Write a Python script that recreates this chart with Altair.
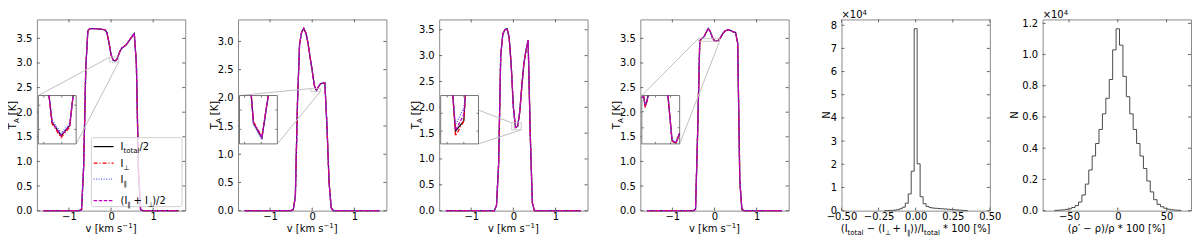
import altair as alt
import pandas as pd

FONT = "DejaVu Sans"
W, H = 149, 192
FRAME = "#8a8a8a"
XDOM = [-1.76, 1.76]

# ---------------- line-profile panels (v in km/s, T_A in K) ----------------
v_p1 = [-1.60, -0.75, -0.70, -0.65, -0.60, -0.55, -0.50, -0.45, -0.40, -0.35, -0.30,
        -0.25, -0.20, -0.15, -0.10, -0.05, 0.00, 0.05, 0.10, 0.15, 0.20, 0.25, 0.30,
        0.35, 0.40, 0.45, 0.50, 0.55, 0.60, 0.65, 0.70, 0.75, 1.60]
T_p1 = [0.00, 0.00, 0.02, 0.90, 2.90, 3.66, 3.70, 3.70, 3.70, 3.70, 3.69,
        3.69, 3.68, 3.68, 3.62, 3.42, 3.17, 3.06, 3.04, 3.09, 3.22, 3.30, 3.33,
        3.36, 3.42, 3.48, 3.54, 3.60, 3.00, 0.80, 0.02, 0.00, 0.00]

v_p2 = [-1.60, -0.50, -0.45, -0.40, -0.35, -0.30, -0.25, -0.20, -0.15, -0.10, -0.05,
        0.00, 0.05, 0.10, 0.15, 0.20, 0.25, 0.30, 0.35, 0.40, 0.45, 0.50, 1.60]
T_p2 = [0.00, 0.00, 0.02, 0.25, 1.90, 2.95, 3.17, 3.23, 3.15, 2.97, 2.72,
        2.48, 2.22, 2.13, 2.20, 2.25, 2.26, 2.26, 1.50, 0.50, 0.05, 0.00, 0.00]

v_p3 = [-1.60, -0.50, -0.45, -0.40, -0.35, -0.30, -0.25, -0.20, -0.15, -0.10, -0.05,
        0.00, 0.05, 0.10, 0.15, 0.20, 0.25, 0.30, 0.35, 0.40, 0.45, 0.50, 1.60]
T_p3 = [0.00, 0.00, 0.00, 0.10, 0.90, 3.00, 3.42, 3.50, 3.52, 3.35, 2.80,
        2.00, 1.61, 1.63, 1.90, 2.40, 2.85, 3.10, 3.30, 1.50, 0.15, 0.00, 0.00]

v_p4 = [-1.60, -0.50, -0.45, -0.40, -0.35, -0.30, -0.25, -0.20, -0.15, -0.10, -0.05,
        0.00, 0.05, 0.10, 0.15, 0.20, 0.25, 0.30, 0.35, 0.40, 0.45, 0.50, 0.55,
        0.60, 0.65, 0.70, 1.60]
T_p4 = [0.00, 0.00, 0.03, 1.60, 3.45, 3.50, 3.53, 3.62, 3.70, 3.64, 3.52,
        3.45, 3.445, 3.46, 3.53, 3.60, 3.65, 3.67, 3.67, 3.65, 3.63, 3.62, 3.40,
        0.60, 0.02, 0.00, 0.00]

PROFILES = [(v_p1, T_p1), (v_p2, T_p2), (v_p3, T_p3), (v_p4, T_p4)]
YMAX = [3.885, 3.39, 3.70, 3.885]
XTICKS = [-1, 0, 1]
YTICKS = [[0.0, 0.5, 1.0, 1.5, 2.0, 2.5, 3.0, 3.5],
          [0.0, 0.5, 1.0, 1.5, 2.0, 2.5, 3.0],
          [0.0, 0.5, 1.0, 1.5, 2.0, 2.5, 3.0, 3.5],
          [0.0, 0.5, 1.0, 1.5, 2.0, 2.5, 3.0, 3.5]]

# zoomed regions shown in the insets: [v0, v1, T0, T1]
REGIONS = [[-0.03, 0.18, 3.02, 3.12],
           [-0.03, 0.195, 2.115, 2.165],
           [-0.039, 0.188, 1.564, 1.70],
           [-0.38, 0.12, 3.44, 3.50]]

# inset curves: (segment, v, black, red, blue, magenta)
INSET_1 = [(0, [0.029, 0.046, 0.096, 0.144, 0.163],
            [3.12, 3.065, 3.037, 3.058, 3.12],
            [3.12, 3.062, 3.033, 3.055, 3.12],
            [3.12, 3.069, 3.042, 3.062, 3.12],
            [3.12, 3.065, 3.037, 3.058, 3.12])]
INSET_2 = [(0, [0.040, 0.053, 0.103, 0.141],
            [2.165, 2.1365, 2.121, 2.165],
            [2.165, 2.138, 2.1225, 2.165],
            [2.165, 2.135, 2.1195, 2.165],
            [2.165, 2.1372, 2.1218, 2.165])]
INSET_3 = [(0, [0.034, 0.05, 0.10, 0.109],
            [1.70, 1.600, 1.629, 1.70],
            [1.70, 1.586, 1.628, 1.70],
            [1.70, 1.618, 1.665, 1.70],
            [1.70, 1.602, 1.646, 1.70])]
INSET_4 = [(0, [-0.38, -0.355, -0.335, -0.31, -0.295],
            [3.4976, 3.4982, 3.4868, 3.494, 3.50],
            [3.4976, 3.4982, 3.4850, 3.493, 3.50],
            [3.4976, 3.4982, 3.4890, 3.495, 3.50],
            [3.4976, 3.4982, 3.4870, 3.494, 3.50]),
           (1, [-0.035, 0.02, 0.07, 0.12],
            [3.50, 3.4442, 3.4412, 3.4532],
            [3.50, 3.4435, 3.4405, 3.4525],
            [3.50, 3.4450, 3.4420, 3.4540],
            [3.50, 3.4442, 3.4412, 3.4532])]
INSETS = [INSET_1, INSET_2, INSET_3, INSET_4]
INSET_XT = [[0.0, 0.1], [0.0, 0.1], [0.0, 0.1], [-0.2, 0.0]]
INSET_YT = [[3.05, 3.10], [2.13, 2.15], [1.60, 1.65], [3.46, 3.48]]

# inset box in axes fractions (x0, x1, y0 from bottom, y1)
BOX = (0.010, 0.265, 0.349, 0.602)

# ---------------- histograms ----------------
h1_edges = [-0.21, -0.19, -0.17, -0.15, -0.13, -0.11, -0.09, -0.07, -0.05, -0.03,
            -0.01, 0.01, 0.03, 0.05, 0.07, 0.09, 0.11, 0.13, 0.15, 0.17, 0.19,
            0.21, 0.23, 0.25, 0.27, 0.29, 0.31, 0.33, 0.35]
h1_counts = [0.003, 0.005, 0.01, 0.02, 0.04, 0.08, 0.15, 0.32, 0.72, 1.70,
             7.85, 2.02, 0.60, 0.30, 0.18, 0.13, 0.11, 0.10, 0.09, 0.08,
             0.07, 0.06, 0.05, 0.04, 0.03, 0.02, 0.01, 0.005]
h2_edges = [-64.75, -61.25, -57.75, -54.25, -50.75, -47.25, -43.75, -40.25, -36.75,
            -33.25, -29.75, -26.25, -22.75, -19.25, -15.75, -12.25, -8.75, -5.25,
            -1.75, 1.75, 5.25, 8.75, 12.25, 15.75, 19.25, 22.75, 26.25, 29.75,
            33.25, 36.75, 40.25, 43.75, 47.25, 50.75, 54.25, 57.75, 61.25, 64.75]
h2_counts = [0.002, 0.003, 0.005, 0.008, 0.012, 0.02, 0.032, 0.055, 0.10, 0.17,
             0.26, 0.35, 0.43, 0.52, 0.62, 0.72, 0.84, 1.03, 1.165, 1.06, 0.86,
             0.73, 0.62, 0.52, 0.43, 0.35, 0.27, 0.19, 0.12, 0.07, 0.04, 0.025,
             0.015, 0.009, 0.005, 0.003, 0.002]
H1_XDOM, H1_YDOM = [-0.5, 0.5], [0, 8.25]
H2_XDOM, H2_YDOM = [-77, 75], [0, 1.225]
H1_XT = [-0.5, -0.25, 0.0, 0.25, 0.5]
H1_YT = [0, 1, 2, 3, 4, 5, 6, 7, 8]
H2_XT = [-50, 0, 50]
H2_YT = [0.0, 0.2, 0.4, 0.6, 0.8, 1.0, 1.2]

for a, b in PROFILES:
    assert len(a) == len(b)
assert len(h1_edges) == len(h1_counts) + 1
assert len(h2_edges) == len(h2_counts) + 1

STYLES = [("black", None, 1.2), ("#ff0000", [4, 2, 1, 2], 1.3),
          ("#5a5aff", [1, 1.5], 1.3), ("#bf00bf", [3.5, 1.6], 1.3)]

ONE = pd.DataFrame({"k": [0]})

CW = {" ": 318, "(": 390, ")": 390, "*": 500, "+": 838, "/": 337, ".": 318,
      "0": 636, "1": 636, "2": 636, "4": 636, "I": 295, "K": 656, "T": 611,
      "A": 684, "[": 390, "]": 390, "%": 950, "a": 613, "l": 278, "o": 612,
      "t": 392, "k": 579, "m": 974, "s": 521, "v": 592, "ρ": 635, "′": 275,
      "−": 838, "⊥": 620, "∥": 420, "×": 838, "N": 748}
SZ = {"n": 10, "b": 7, "p": 7}
DY = {"n": 0, "b": 3, "p": -3.5}


def tw(s, size):
    return sum(CW.get(c, 600) for c in s) * size / 1000.0


def vtext(t, x, y, size=10, align="left", angle=0, baseline="alphabetic"):
    kw = dict(text=t, align=align, baseline=baseline, fontSize=size, font=FONT, color="black")
    if angle:
        kw["angle"] = angle
    return alt.Chart(ONE).mark_text(**kw).encode(x=alt.value(x), y=alt.value(y))


def comp_h(segs, x, y, anchor="center"):
    total = sum(tw(t, SZ[k]) for t, k in segs)
    cx = x - total / 2 if anchor == "center" else x
    out = []
    for t, k in segs:
        fs = SZ[k]
        lead = len(t) - len(t.lstrip(" "))
        s = t.strip(" ")
        if s:
            out.append(vtext(s, cx + tw(" " * lead, fs), y + DY[k], size=fs))
        cx += tw(t, fs)
    return out


def comp_v(segs, x, yc):
    total = sum(tw(t, SZ[k]) for t, k in segs)
    cy = yc + total / 2
    out = []
    for t, k in segs:
        fs = SZ[k]
        lead = len(t) - len(t.lstrip(" "))
        s = t.strip(" ")
        if s:
            out.append(vtext(s, x + DY[k], cy - tw(" " * lead, fs), size=fs, angle=270))
        cy -= tw(t, fs)
    return out


def scl(dom, rng=None):
    if rng is None:
        return alt.Scale(domain=dom, nice=False, zero=False)
    return alt.Scale(domain=dom, range=rng, nice=False, zero=False)


def inward_ticks(X, Y, xt, yt, L=3):
    dx = pd.DataFrame({"x": xt})
    dy = pd.DataFrame({"y": yt})
    c = "#666666"
    return [
        alt.Chart(dx).mark_rule(color=c, strokeWidth=1).encode(
            x=X, y=alt.value(H), y2=alt.value(H - L)),
        alt.Chart(dx).mark_rule(color=c, strokeWidth=1).encode(
            x=X, y=alt.value(0), y2=alt.value(L)),
        alt.Chart(dy).mark_rule(color=c, strokeWidth=1).encode(
            y=Y, x=alt.value(0), x2=alt.value(L)),
        alt.Chart(dy).mark_rule(color=c, strokeWidth=1).encode(
            y=Y, x=alt.value(W), x2=alt.value(W - L)),
    ]


def profile_panel(i):
    v, T = PROFILES[i]
    df = pd.DataFrame({"x": v, "y": T})
    ydom = [0, YMAX[i]]
    AX = alt.Axis(values=XTICKS, format="d", title=None)
    AY = alt.Axis(values=YTICKS[i], format=".1f", title=None)
    X = alt.X("x:Q", scale=scl(XDOM), axis=AX)
    Y = alt.Y("y:Q", scale=scl(ydom), axis=AY)
    main = []
    for j, (col, dash, sw) in enumerate(STYLES):
        kw = dict(color=col, strokeWidth=sw)
        if dash:
            kw["strokeDash"] = dash
        main.append(alt.Chart(df).mark_line(**kw).encode(x=X, y=Y))
    main += inward_ticks(X, Y, XTICKS, YTICKS[i])

    # zoom region + connectors (inset corners from axes fractions)
    rv0, rv1, rT0, rT1 = REGIONS[i]
    bx0, bx1, by0, by1 = BOX
    fx = lambda f: XDOM[0] + f * (XDOM[1] - XDOM[0])
    fy = lambda f: ydom[0] + f * (ydom[1] - ydom[0])
    con = pd.DataFrame({"x": [fx(bx0), fx(bx1)], "y": [fy(by1), fy(by0)],
                        "x2": [rv0, rv1], "y2": [rT1, rT0]})
    main.append(alt.Chart(con).mark_rule(color="#c0c0c0", strokeWidth=1).encode(
        x=X, y=Y, x2="x2:Q", y2="y2:Q"))
    reg = pd.DataFrame({"x": [rv0], "x2": [rv1], "y": [rT0], "y2": [rT1]})
    main.append(alt.Chart(reg).mark_rect(fillOpacity=0, stroke="#c0c0c0", strokeWidth=0.8).encode(
        x=X, y=Y, x2="x2:Q", y2="y2:Q"))

    # axis titles
    main += comp_v([("T", "n"), ("A", "b"), (" [K]", "n")], -20.5, H / 2)
    main += comp_h([("v [km s", "n"), ("−1", "p"), ("]", "n")], W / 2, H + 21)

    if i == 0:
        lx0, lx1, ly0, ly1 = 54.7, 145.7, H - 73.3, H - 4.0
        main.append(alt.Chart(ONE).mark_rect(fill="white", fillOpacity=0.8, stroke="#d0d0d0",
                                             strokeWidth=1, cornerRadius=2).encode(
            x=alt.value(lx0), x2=alt.value(lx1), y=alt.value(ly0), y2=alt.value(ly1)))
        labels = [[("I", "n"), ("total", "b"), ("/2", "n")],
                  [("I", "n"), ("⊥", "b")],
                  [("I", "n"), ("∥", "b")],
                  [("(I", "n"), ("∥", "b"), (" + I", "n"), ("⊥", "b"), (")/2", "n")]]
        rows = [H - 64.3, H - 47.7, H - 31.7, H - 10.0]
        for (col, dash, sw), lab, yy in zip(STYLES, labels, rows):
            kw = dict(color=col, strokeWidth=sw)
            if dash:
                kw["strokeDash"] = dash
            main.append(alt.Chart(ONE).mark_rule(**kw).encode(
                x=alt.value(57), x2=alt.value(77), y=alt.value(yy)))
            main += comp_h(lab, 84, yy + 3.5, anchor="left")

    main_layer = alt.layer(*main)

    # inset with its own scales mapped into the inset box
    IX = alt.X("x:Q", scale=scl([rv0, rv1], [bx0 * W, bx1 * W]), axis=None)
    IY = alt.Y("y:Q", scale=scl([rT0, rT1], [H * (1 - by0), H * (1 - by1)]), axis=None)
    inset = [alt.Chart(reg).mark_rect(fill="white", stroke="#777777", strokeWidth=1).encode(
        x=IX, y=IY, x2="x2:Q", y2="y2:Q")]
    for j, (col, dash, sw) in enumerate(STYLES):
        recs = []
        for seg in INSETS[i]:
            sid, vv = seg[0], seg[1]
            for a, b in zip(vv, seg[2 + j]):
                recs.append({"x": a, "y": b, "s": sid})
        kw = dict(color=col, strokeWidth=sw)
        if dash:
            kw["strokeDash"] = dash
        inset.append(alt.Chart(pd.DataFrame(recs)).mark_line(**kw).encode(
            x=IX, y=IY, detail="s:N"))
    top, bot = H * (1 - by1), H * (1 - by0)
    lft, rgt = bx0 * W, bx1 * W
    dxt = pd.DataFrame({"x": INSET_XT[i]})
    dyt = pd.DataFrame({"y": INSET_YT[i]})
    c = "#777777"
    inset += [
        alt.Chart(dxt).mark_rule(color=c).encode(x=IX, y=alt.value(bot), y2=alt.value(bot - 2)),
        alt.Chart(dxt).mark_rule(color=c).encode(x=IX, y=alt.value(top), y2=alt.value(top + 2)),
        alt.Chart(dyt).mark_rule(color=c).encode(y=IY, x=alt.value(lft), x2=alt.value(lft + 2)),
        alt.Chart(dyt).mark_rule(color=c).encode(y=IY, x=alt.value(rgt), x2=alt.value(rgt - 2)),
    ]
    inset_layer = alt.layer(*inset)
    return alt.layer(main_layer, inset_layer).resolve_scale(
        x="independent", y="independent").properties(width=W, height=H)


def hist_panel(edges, counts, xdom, ydom, xt, yt, yfmt, xfmt, xtitle, ntitle_x):
    xs_ = [edges[0]] + edges[:-1] + [edges[-1], edges[-1]]
    ys_ = [0] + counts + [counts[-1], 0]
    df = pd.DataFrame({"x": xs_, "y": ys_, "i": list(range(len(xs_)))})
    X = alt.X("x:Q", scale=scl(xdom), axis=alt.Axis(values=xt, format=xfmt, title=None))
    Y = alt.Y("y:Q", scale=scl(ydom), axis=alt.Axis(values=yt, format=yfmt, title=None))
    layers = [alt.Chart(df).mark_line(color="#4a4a4a", strokeWidth=1, interpolate="step-after").encode(
        x=X, y=Y, order="i:Q")]
    layers += inward_ticks(X, Y, xt, yt)
    layers.append(vtext("N", ntitle_x, H / 2, align="center", angle=270))
    layers += comp_h([("×10", "n"), ("4", "p")], 0, -1.0, anchor="left")
    layers += xtitle
    return alt.layer(*layers).properties(width=W, height=H)


panels = [profile_panel(i) for i in range(4)]
t5 = comp_h([("(I", "n"), ("total", "b"), (" − (I", "n"), ("⊥", "b"), (" + I", "n"),
             ("∥", "b"), ("))/I", "n"), ("total", "b"), (" * 100 [%]", "n")], W / 2, H + 21)
t6 = comp_h([("(ρ′ − ρ)/ρ * 100 [%]", "n")], W / 2, H + 21)
panels.append(hist_panel(h1_edges, h1_counts, H1_XDOM, H1_YDOM, H1_XT, H1_YT, "d", ".2f", t5, -12))
panels.append(hist_panel(h2_edges, h2_counts, H2_XDOM, H2_YDOM, H2_XT, H2_YT, ".1f", "d", t6, -24.5))

chart = alt.hconcat(*panels, spacing=53, bounds="flush").properties(
    padding={"left": 0, "top": 0, "right": 0, "bottom": 0}
).configure_view(stroke=FRAME, strokeWidth=1).configure_axis(
    labelFont=FONT, labelFontSize=10, labelColor="black", ticks=False, tickSize=0,
    domain=False, grid=False, labelFlush=False, labelOverlap=False
).configure_axisX(labelPadding=1).configure_axisY(labelPadding=5)

chart.save("out.html", embed_options={"renderer": "svg", "actions": False})
